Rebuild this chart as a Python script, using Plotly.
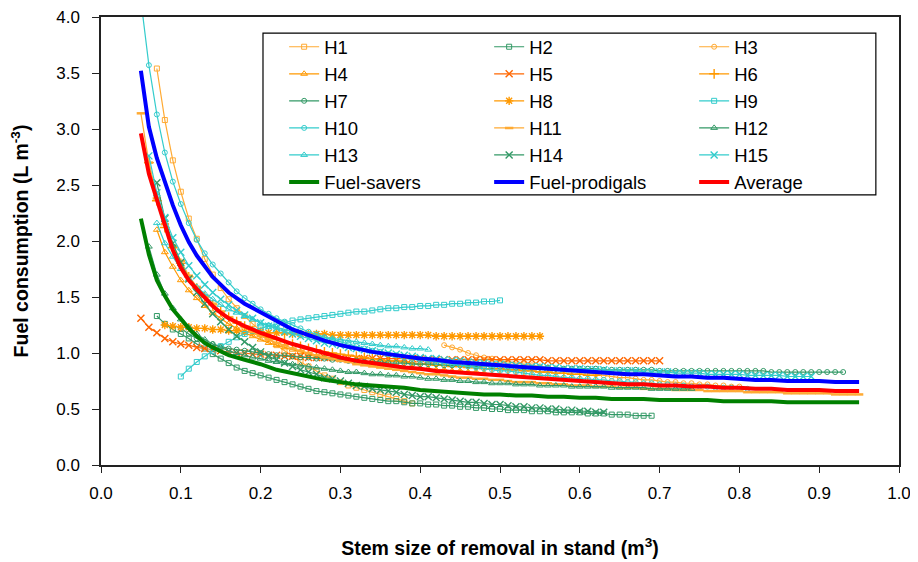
import plotly.graph_objects as go

# ---------------- data ----------------
H1_X = [0.07,0.08,0.09,0.10,0.11,0.12,0.13,0.14,0.15,0.16,0.17,0.18,0.19,0.20,0.21,0.22,0.23,0.24,0.25,0.26,0.27,0.28,0.29,0.30,0.31,0.32,0.33,0.34,0.35,0.36,0.37,0.38,0.39]
H1_Y = [3.54,3.08,2.72,2.44,2.20,2.02,1.84,1.70,1.58,1.48,1.40,1.33,1.26,1.20,1.13,1.07,1.02,0.97,0.92,0.88,0.84,0.80,0.77,0.74,0.71,0.69,0.67,0.65,0.63,0.61,0.59,0.57,0.55]

H2_X = [0.07,0.08,0.09,0.10,0.11,0.12,0.13,0.14,0.15,0.16,0.17,0.18,0.19,0.20,0.21,0.22,0.23,0.24,0.25,0.26,0.27,0.28,0.29,0.30,0.31,0.32,0.33,0.34,0.35,0.36,0.37,0.38,0.39,0.40,0.41,0.42,0.43,0.44,0.45,0.46,0.47,0.48,0.49,0.50,0.51,0.52,0.53,0.54,0.55,0.56,0.57,0.58,0.59,0.60,0.61,0.62,0.63,0.64,0.65,0.66,0.67,0.68,0.69]
H2_Y = [1.33,1.26,1.21,1.17,1.13,1.08,1.04,0.99,0.95,0.91,0.87,0.84,0.82,0.80,0.78,0.76,0.74,0.72,0.70,0.68,0.66,0.65,0.64,0.63,0.62,0.61,0.60,0.59,0.58,0.57,0.57,0.56,0.55,0.55,0.54,0.54,0.53,0.53,0.52,0.52,0.51,0.51,0.50,0.50,0.49,0.49,0.49,0.48,0.48,0.48,0.47,0.47,0.47,0.47,0.46,0.46,0.46,0.45,0.45,0.45,0.44,0.44,0.44]

H3_X = [0.43,0.44,0.45,0.46,0.47,0.48,0.49,0.50,0.51,0.52,0.53,0.54,0.55,0.56,0.57,0.58,0.59,0.60,0.61,0.62,0.63,0.64,0.65,0.66,0.67,0.68,0.69,0.70,0.71,0.72,0.73,0.74,0.75,0.76,0.77,0.78,0.79,0.80]
H3_Y = [1.07,1.05,1.03,1.00,0.98,0.96,0.95,0.93,0.92,0.91,0.90,0.89,0.88,0.87,0.86,0.85,0.84,0.83,0.82,0.81,0.80,0.79,0.78,0.78,0.77,0.76,0.76,0.75,0.74,0.74,0.73,0.73,0.72,0.72,0.71,0.71,0.70,0.70]

H4_X = [0.07,0.08,0.09,0.10,0.11,0.12,0.13,0.14,0.15,0.16,0.17,0.18,0.19,0.20,0.21,0.22,0.23,0.24,0.25,0.26,0.27,0.28,0.29,0.30,0.31,0.32,0.33,0.34,0.35,0.36,0.37,0.38,0.39,0.40,0.41,0.42,0.43,0.44,0.45,0.46,0.47,0.48]
H4_Y = [2.10,1.90,1.77,1.65,1.56,1.49,1.42,1.36,1.31,1.26,1.22,1.18,1.15,1.12,1.09,1.07,1.05,1.03,1.01,0.99,0.97,0.96,0.95,0.94,0.93,0.92,0.91,0.90,0.89,0.89,0.88,0.87,0.87,0.86,0.86,0.85,0.85,0.84,0.84,0.83,0.83,0.82]

H5_X = [0.05,0.06,0.07,0.08,0.09,0.10,0.11,0.12,0.13,0.14,0.15,0.16,0.17,0.18,0.19,0.20,0.21,0.22,0.23,0.24,0.25,0.26,0.27,0.28,0.29,0.30,0.31,0.32,0.33,0.34,0.35,0.36,0.37,0.38,0.39,0.40,0.41,0.42,0.43,0.44,0.45,0.46,0.47,0.48,0.49,0.50,0.51,0.52,0.53,0.54,0.55,0.56,0.57,0.58,0.59,0.60,0.61,0.62,0.63,0.64,0.65,0.66,0.67,0.68,0.69,0.70]
H5_Y = [1.31,1.23,1.18,1.13,1.10,1.08,1.07,1.05,1.04,1.03,1.02,1.01,1.00,1.00,0.99,0.99,0.98,0.98,0.97,0.97,0.97,0.96,0.96,0.96,0.96,0.95,0.95,0.95,0.95,0.95,0.95,0.95,0.95,0.95,0.95,0.95,0.94,0.94,0.94,0.94,0.94,0.94,0.94,0.94,0.94,0.94,0.94,0.94,0.94,0.94,0.94,0.93,0.93,0.93,0.93,0.93,0.93,0.93,0.93,0.93,0.93,0.93,0.93,0.93,0.93,0.93]

H6_X = [0.06,0.07,0.08,0.09,0.10,0.11,0.12,0.13,0.14,0.15,0.16,0.17,0.18,0.19,0.20,0.21,0.22,0.23,0.24,0.25,0.26,0.27,0.28,0.29,0.30,0.31,0.32,0.33,0.34,0.35,0.36,0.37,0.38,0.39,0.40,0.41,0.42,0.43,0.44,0.45,0.46,0.47,0.48,0.49,0.50,0.51,0.52,0.53,0.54,0.55,0.56,0.57,0.58,0.59,0.60,0.61,0.62]
H6_Y = [2.70,2.36,2.12,1.94,1.80,1.68,1.58,1.50,1.43,1.37,1.32,1.28,1.24,1.20,1.17,1.14,1.12,1.10,1.08,1.06,1.04,1.03,1.01,1.00,0.99,0.98,0.97,0.96,0.95,0.94,0.93,0.93,0.92,0.91,0.90,0.90,0.89,0.89,0.88,0.88,0.87,0.87,0.86,0.86,0.86,0.85,0.85,0.84,0.84,0.83,0.83,0.82,0.82,0.81,0.81,0.80,0.80]

H7_X = [0.10,0.11,0.12,0.13,0.14,0.15,0.16,0.17,0.18,0.19,0.20,0.21,0.22,0.23,0.24,0.25,0.26,0.27,0.28,0.29,0.30,0.31,0.32,0.33,0.34,0.35,0.36,0.37,0.38,0.39,0.40,0.41,0.42,0.43,0.44,0.45,0.46,0.47,0.48,0.49,0.50,0.51,0.52,0.53,0.54,0.55,0.56,0.57,0.58,0.59,0.60,0.61,0.62,0.63,0.64,0.65,0.66,0.67,0.68,0.69,0.70,0.71,0.72,0.73,0.74,0.75,0.76,0.77,0.78,0.79,0.80,0.81,0.82,0.83,0.84,0.85,0.86,0.87,0.88,0.89,0.90,0.91,0.92,0.93]
H7_Y = [1.22,1.17,1.13,1.10,1.08,1.06,1.04,1.03,1.02,1.01,1.00,0.99,0.98,0.98,0.97,0.96,0.96,0.95,0.95,0.94,0.94,0.93,0.93,0.92,0.92,0.92,0.91,0.91,0.91,0.90,0.90,0.90,0.90,0.89,0.89,0.89,0.89,0.88,0.88,0.88,0.88,0.88,0.87,0.87,0.87,0.87,0.87,0.86,0.86,0.86,0.86,0.86,0.86,0.85,0.85,0.85,0.85,0.85,0.85,0.85,0.84,0.84,0.84,0.84,0.84,0.84,0.84,0.84,0.84,0.84,0.84,0.84,0.84,0.84,0.83,0.83,0.83,0.83,0.83,0.83,0.83,0.83,0.83,0.83]

H8_X = [0.08,0.09,0.10,0.11,0.12,0.13,0.14,0.15,0.16,0.17,0.18,0.19,0.20,0.21,0.22,0.23,0.24,0.25,0.26,0.27,0.28,0.29,0.30,0.31,0.32,0.33,0.34,0.35,0.36,0.37,0.38,0.39,0.40,0.41,0.42,0.43,0.44,0.45,0.46,0.47,0.48,0.49,0.50,0.51,0.52,0.53,0.54,0.55]
H8_Y = [1.25,1.24,1.23,1.23,1.22,1.22,1.21,1.21,1.20,1.20,1.19,1.19,1.19,1.18,1.18,1.18,1.17,1.17,1.17,1.17,1.17,1.16,1.16,1.16,1.16,1.16,1.16,1.16,1.16,1.16,1.16,1.16,1.16,1.16,1.15,1.15,1.15,1.15,1.15,1.15,1.15,1.15,1.15,1.15,1.15,1.15,1.15,1.15]

H9_X = [0.10,0.11,0.12,0.13,0.14,0.15,0.16,0.17,0.18,0.19,0.20,0.21,0.22,0.23,0.24,0.25,0.26,0.27,0.28,0.29,0.30,0.31,0.32,0.33,0.34,0.35,0.36,0.37,0.38,0.39,0.40,0.41,0.42,0.43,0.44,0.45,0.46,0.47,0.48,0.49,0.50]
H9_Y = [0.79,0.86,0.92,0.97,1.02,1.06,1.10,1.14,1.17,1.20,1.22,1.24,1.26,1.27,1.29,1.30,1.31,1.32,1.33,1.34,1.35,1.36,1.37,1.37,1.38,1.39,1.40,1.40,1.41,1.41,1.42,1.42,1.43,1.43,1.44,1.44,1.45,1.45,1.46,1.46,1.47]

H10_X = [0.05,0.06,0.07,0.08,0.09,0.10,0.11,0.12,0.13,0.14,0.15,0.16,0.17,0.18,0.19,0.20,0.21,0.22,0.23,0.24,0.25,0.26,0.27,0.28,0.29,0.30,0.31,0.32,0.33,0.34,0.35,0.36,0.37,0.38,0.39,0.40,0.41,0.42,0.43,0.44,0.45,0.46,0.47,0.48,0.49,0.50,0.51,0.52,0.53,0.54,0.55,0.56,0.57,0.58,0.59,0.60,0.61,0.62,0.63,0.64,0.65,0.66,0.67,0.68,0.69,0.70,0.71,0.72,0.73,0.74,0.75,0.76,0.77,0.78,0.79,0.80,0.81]
H10_Y = [4.15,3.57,3.13,2.79,2.53,2.33,2.16,2.01,1.89,1.79,1.71,1.63,1.55,1.49,1.44,1.39,1.35,1.31,1.28,1.25,1.22,1.19,1.17,1.14,1.12,1.10,1.08,1.06,1.04,1.02,1.01,0.99,0.98,0.96,0.95,0.94,0.93,0.92,0.91,0.90,0.89,0.88,0.87,0.86,0.85,0.84,0.84,0.83,0.82,0.81,0.80,0.80,0.79,0.78,0.78,0.77,0.77,0.76,0.76,0.75,0.75,0.74,0.74,0.73,0.73,0.72,0.72,0.71,0.71,0.70,0.70,0.70,0.69,0.69,0.69,0.68,0.68]

H11_X = [0.05,0.06,0.07,0.08,0.09,0.10,0.11,0.12,0.13,0.14,0.15,0.16,0.17,0.18,0.19,0.20,0.21,0.22,0.23,0.24,0.25,0.26,0.27,0.28,0.29,0.30,0.31,0.32,0.33,0.34,0.35,0.36,0.37,0.38,0.39,0.40,0.41,0.42,0.43,0.44,0.45,0.46,0.47,0.48,0.49,0.50,0.51,0.52,0.53,0.54,0.55,0.56,0.57,0.58,0.59,0.60,0.61,0.62,0.63,0.64,0.65,0.66,0.67,0.68,0.69,0.70,0.71,0.72,0.73,0.74,0.75,0.76,0.77,0.78,0.79,0.80,0.81,0.82,0.83,0.84,0.85,0.86,0.87,0.88,0.89,0.90,0.91,0.92,0.93,0.94,0.95]
H11_Y = [3.14,2.70,2.38,2.15,1.96,1.82,1.69,1.59,1.51,1.44,1.37,1.32,1.27,1.23,1.19,1.15,1.12,1.09,1.07,1.04,1.02,1.00,0.98,0.96,0.95,0.93,0.92,0.90,0.89,0.88,0.87,0.86,0.85,0.84,0.83,0.82,0.81,0.81,0.80,0.79,0.78,0.78,0.77,0.77,0.76,0.76,0.75,0.74,0.74,0.74,0.73,0.73,0.72,0.72,0.71,0.71,0.71,0.70,0.70,0.70,0.69,0.69,0.69,0.68,0.68,0.68,0.68,0.67,0.67,0.67,0.67,0.66,0.66,0.66,0.66,0.66,0.65,0.65,0.65,0.65,0.65,0.64,0.64,0.64,0.64,0.64,0.64,0.63,0.63,0.63,0.63]

H12_X = [0.06,0.07,0.08,0.09,0.10,0.11,0.12,0.13,0.14,0.15,0.16,0.17,0.18,0.19,0.20,0.21,0.22,0.23,0.24,0.25,0.26,0.27,0.28,0.29,0.30,0.31,0.32,0.33,0.34,0.35,0.36,0.37,0.38,0.39,0.40,0.41,0.42,0.43,0.44,0.45,0.46,0.47,0.48,0.49,0.50,0.51,0.52,0.53,0.54,0.55,0.56,0.57,0.58,0.59,0.60,0.61,0.62,0.63,0.64,0.65,0.66,0.67,0.68,0.69,0.70,0.71,0.72,0.73,0.74]
H12_Y = [1.95,1.70,1.53,1.40,1.30,1.23,1.17,1.12,1.08,1.05,1.02,1.00,0.98,0.96,0.95,0.93,0.92,0.91,0.90,0.89,0.88,0.87,0.86,0.85,0.84,0.83,0.83,0.82,0.81,0.81,0.80,0.80,0.79,0.79,0.78,0.77,0.77,0.76,0.76,0.75,0.75,0.74,0.74,0.73,0.73,0.73,0.72,0.72,0.72,0.71,0.71,0.71,0.71,0.70,0.70,0.70,0.70,0.70,0.69,0.69,0.69,0.69,0.69,0.68,0.68,0.68,0.68,0.68,0.68]

H13_X = [0.07,0.08,0.09,0.10,0.11,0.12,0.13,0.14,0.15,0.16,0.17,0.18,0.19,0.20,0.21,0.22,0.23,0.24,0.25,0.26,0.27,0.28,0.29,0.30,0.31,0.32,0.33,0.34,0.35,0.36,0.37,0.38,0.39,0.40,0.41]
H13_Y = [2.16,1.98,1.86,1.75,1.66,1.59,1.53,1.48,1.43,1.39,1.36,1.33,1.30,1.27,1.25,1.23,1.21,1.19,1.18,1.17,1.15,1.14,1.13,1.12,1.11,1.10,1.09,1.08,1.07,1.06,1.06,1.05,1.04,1.04,1.03]

H14_X = [0.07,0.08,0.09,0.10,0.11,0.12,0.13,0.14,0.15,0.16,0.17,0.18,0.19,0.20,0.21,0.22,0.23,0.24,0.25,0.26,0.27,0.28,0.29,0.30,0.31,0.32,0.33,0.34,0.35,0.36,0.37,0.38,0.39,0.40,0.41,0.42,0.43,0.44,0.45,0.46,0.47,0.48,0.49,0.50,0.51,0.52,0.53,0.54,0.55,0.56,0.57,0.58,0.59,0.60,0.61,0.62,0.63]
H14_Y = [2.52,2.20,1.98,1.81,1.66,1.54,1.44,1.35,1.28,1.21,1.15,1.10,1.05,1.01,0.97,0.94,0.91,0.88,0.85,0.83,0.81,0.78,0.77,0.75,0.73,0.71,0.70,0.68,0.67,0.66,0.65,0.63,0.62,0.61,0.61,0.60,0.59,0.58,0.57,0.56,0.56,0.55,0.54,0.54,0.53,0.52,0.52,0.51,0.51,0.50,0.50,0.49,0.49,0.48,0.48,0.47,0.47]

H15_X = [0.06,0.07,0.08,0.09,0.10,0.11,0.12,0.13,0.14,0.15,0.16,0.17,0.18,0.19,0.20,0.21,0.22,0.23,0.24,0.25,0.26,0.27,0.28,0.29,0.30,0.31,0.32,0.33,0.34,0.35,0.36,0.37,0.38,0.39,0.40,0.41,0.42,0.43,0.44,0.45,0.46,0.47,0.48,0.49,0.50,0.51,0.52,0.53,0.54,0.55,0.56,0.57,0.58,0.59,0.60,0.61,0.62,0.63,0.64,0.65,0.66,0.67,0.68,0.69,0.70,0.71,0.72,0.73,0.74,0.75,0.76,0.77,0.78,0.79,0.80,0.81,0.82,0.83,0.84,0.85,0.86,0.87,0.88,0.89]
H15_Y = [2.76,2.43,2.21,2.03,1.90,1.78,1.69,1.61,1.54,1.48,1.43,1.38,1.34,1.31,1.27,1.24,1.22,1.19,1.17,1.15,1.13,1.11,1.09,1.08,1.07,1.05,1.04,1.03,1.02,1.01,1.00,0.99,0.98,0.97,0.96,0.95,0.95,0.94,0.93,0.93,0.92,0.91,0.91,0.90,0.90,0.89,0.89,0.88,0.88,0.88,0.87,0.87,0.86,0.86,0.86,0.85,0.85,0.85,0.84,0.84,0.84,0.84,0.83,0.83,0.83,0.83,0.82,0.82,0.82,0.82,0.81,0.81,0.81,0.81,0.81,0.80,0.80,0.80,0.80,0.80,0.79,0.79,0.79,0.79]

GROUP_X = [0.05,0.06,0.07,0.08,0.09,0.10,0.11,0.12,0.13,0.14,0.15,0.16,0.18,0.20,0.22,0.24,0.26,0.28,0.30,0.32,0.34,0.36,0.38,0.40,0.42,0.44,0.46,0.48,0.50,0.52,0.54,0.56,0.58,0.60,0.62,0.64,0.66,0.68,0.70,0.72,0.74,0.76,0.78,0.80,0.82,0.84,0.86,0.88,0.90,0.92,0.94,0.95]
SAVERS_Y = [2.20,1.88,1.65,1.51,1.39,1.30,1.22,1.15,1.09,1.05,1.01,0.98,0.94,0.90,0.85,0.82,0.79,0.76,0.74,0.72,0.71,0.70,0.69,0.67,0.66,0.65,0.64,0.63,0.63,0.62,0.62,0.61,0.61,0.60,0.60,0.59,0.59,0.59,0.58,0.58,0.58,0.58,0.57,0.57,0.57,0.57,0.56,0.56,0.56,0.56,0.56,0.56]
PRODIGALS_Y = [3.52,3.02,2.74,2.52,2.32,2.14,1.99,1.87,1.77,1.68,1.61,1.54,1.44,1.36,1.28,1.21,1.16,1.11,1.07,1.04,1.01,0.99,0.97,0.95,0.94,0.92,0.91,0.90,0.89,0.88,0.87,0.86,0.85,0.84,0.83,0.82,0.81,0.81,0.80,0.79,0.79,0.78,0.78,0.77,0.76,0.76,0.75,0.75,0.75,0.74,0.74,0.74]
AVERAGE_Y = [2.96,2.60,2.37,2.14,1.92,1.76,1.65,1.57,1.49,1.42,1.36,1.31,1.24,1.18,1.13,1.08,1.04,1.00,0.96,0.93,0.91,0.89,0.87,0.86,0.84,0.83,0.82,0.81,0.80,0.79,0.78,0.77,0.76,0.75,0.74,0.73,0.72,0.72,0.71,0.71,0.70,0.70,0.69,0.69,0.68,0.68,0.67,0.67,0.67,0.66,0.66,0.66]

X_TICKS = [0.0,0.1,0.2,0.3,0.4,0.5,0.6,0.7,0.8,0.9,1.0]
Y_TICKS = [0.0,0.5,1.0,1.5,2.0,2.5,3.0,3.5,4.0]

# ---------------- styles ----------------
LORANGE = "#FFAA33"
ORANGE = "#FF9900"
ORANGERED = "#FF6600"
SEA = "#339966"
TURQ = "#33CCCC"

SERIES = [
    ("H1", H1_X, H1_Y, LORANGE, "square-open"),
    ("H2", H2_X, H2_Y, SEA, "square-open"),
    ("H3", H3_X, H3_Y, LORANGE, "circle-open"),
    ("H4", H4_X, H4_Y, ORANGE, "triangle-up-open"),
    ("H5", H5_X, H5_Y, ORANGERED, "x-thin-open"),
    ("H6", H6_X, H6_Y, ORANGE, "cross-thin-open"),
    ("H7", H7_X, H7_Y, SEA, "circle-open"),
    ("H8", H8_X, H8_Y, ORANGE, "asterisk-open"),
    ("H9", H9_X, H9_Y, TURQ, "square-open"),
    ("H10", H10_X, H10_Y, TURQ, "circle-open"),
    ("H11", H11_X, H11_Y, LORANGE, "line-ew-open"),
    ("H12", H12_X, H12_Y, SEA, "triangle-up-open"),
    ("H13", H13_X, H13_Y, TURQ, "triangle-up-open"),
    ("H14", H14_X, H14_Y, SEA, "x-thin-open"),
    ("H15", H15_X, H15_Y, TURQ, "x-thin-open"),
]
GROUPS = [
    ("Fuel-savers", SAVERS_Y, "#008000"),
    ("Fuel-prodigals", PRODIGALS_Y, "#0000FF"),
    ("Average", AVERAGE_Y, "#FF0000"),
]

FONT = "Liberation Sans, Arial, sans-serif"

fig = go.Figure()
for name, xs, ys, color, symbol in SERIES:
    assert len(xs) == len(ys), name
    msize = 5
    mlw = 1
    if symbol == "triangle-up-open":
        msize = 6
    if symbol in ("x-thin-open", "cross-thin-open", "asterisk-open"):
        msize = 7
        mlw = 1.4
    if symbol == "line-ew-open":
        msize = 6
        mlw = 2.5
    fig.add_trace(go.Scatter(
        x=xs, y=ys, name=name, mode="lines+markers",
        line=dict(color=color, width=1.2),
        marker=dict(symbol=symbol, size=msize, color=color,
                    line=dict(color=color, width=mlw)),
    ))

for name, ys, color in GROUPS:
    assert len(GROUP_X) == len(ys), name
    fig.add_trace(go.Scatter(
        x=GROUP_X, y=ys, name=name, mode="lines",
        line=dict(color=color, width=4),
    ))

# legend frame drawn as a shape (paper coords of the plot area)
fig.add_shape(type="rect", xref="paper", yref="paper",
              x0=0.203, x1=0.971, y0=0.603, y1=0.964,
              line=dict(color="black", width=1.2), fillcolor="white", layer="below")

# the page body has an 8px margin: the figure is sized so it ends at 918x562
fig.update_layout(
    width=910, height=554,
    margin=dict(l=93, r=19, t=9, b=97, autoexpand=False),
    plot_bgcolor="white", paper_bgcolor="white",
    font=dict(family=FONT, color="black"),
    showlegend=True,
    legend=dict(
        orientation="h", x=0.2295, y=0.975, xanchor="left", yanchor="top",
        bgcolor="rgba(0,0,0,0)", borderwidth=0,
        font=dict(family=FONT, size=18.5, color="black"),
        entrywidth=160, entrywidthmode="pixels", itemwidth=30,
        traceorder="normal",
    ),
    xaxis=dict(
        range=[0, 1], tickvals=X_TICKS, ticktext=[f"{v:.1f}" for v in X_TICKS],
        automargin=False, ticklabeloverflow="allow",
        ticks="outside", ticklen=6, tickwidth=1.2, tickcolor="#222",
        ticklabelstandoff=6,
        showline=True, linecolor="#222", linewidth=1.5, mirror=True,
        showgrid=False, zeroline=False,
        tickfont=dict(family=FONT, size=17, color="black"),
        title=dict(text="<b>Stem size of removal in stand (m<sup>3</sup>)</b>",
                   font=dict(family=FONT, size=19.5, color="black"), standoff=39),
    ),
    yaxis=dict(
        range=[0, 4], tickvals=Y_TICKS, ticktext=[f"{v:.1f}" for v in Y_TICKS],
        automargin=False, ticklabeloverflow="allow",
        ticks="outside", ticklen=7, tickwidth=1.2, tickcolor="#222",
        ticklabelstandoff=9,
        showline=True, linecolor="#222", linewidth=1.5, mirror=True,
        showgrid=False, zeroline=False,
        tickfont=dict(family=FONT, size=17, color="black"),
        title=dict(text="<b>Fuel consumption (L m<sup>-3</sup>)</b>",
                   font=dict(family=FONT, size=19.5, color="black"), standoff=24),
    ),
)

fig.write_html("out.html")
